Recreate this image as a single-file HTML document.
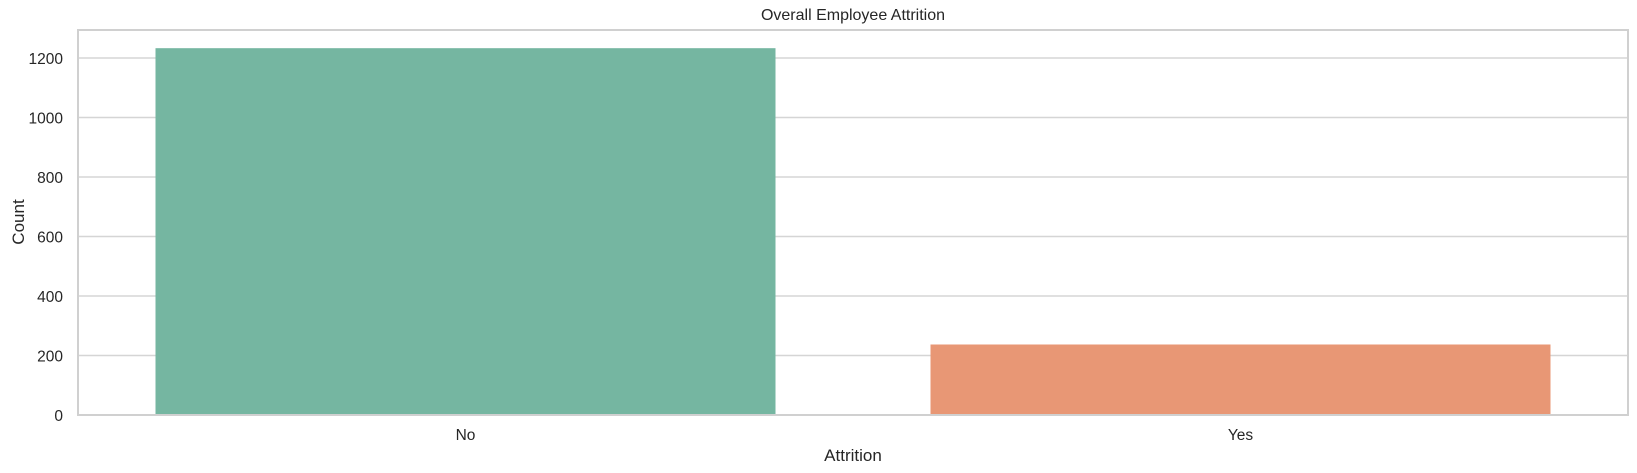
<!DOCTYPE html>
<html><head><meta charset="utf-8"><style>
body{margin:0;background:#fff}
svg{display:block;font-family:"Liberation Sans","DejaVu Sans",sans-serif}
</style></head><body>
<svg id="chart" width="1637" height="473">
<text x="853" y="20" text-anchor="middle" font-size="16" fill="#262626">Overall Employee Attrition</text>
<g id="grid"></g>
<g id="bars"></g>
<g id="ticks"></g>
<rect x="78" y="30" width="1550" height="385" fill="none" stroke="#d0d0d0" stroke-width="2"/>
<text x="853" y="461" text-anchor="middle" font-size="17" fill="#262626">Attrition</text>
<text transform="translate(24,222) rotate(-90)" text-anchor="middle" font-size="17" fill="#262626">Count</text>
</svg>
<script>
const categories=["No","Yes"];
const counts=[1233,237];
const yTicks=[0,200,400,600,800,1000,1200];
const colors=["#75b6a1","#e89775"];
const L=78,R=1628,T=30,B=415,yMax=1200,yPix=357;
const NS="http://www.w3.org/2000/svg";
function y(v){return B-v/yMax*yPix;}
const band=(R-L)/categories.length;
function xc(i){return L+band*(i+0.5);}
const grid=document.getElementById('grid'),bars=document.getElementById('bars'),ticks=document.getElementById('ticks');
yTicks.forEach(t=>{
 const l=document.createElementNS(NS,'line');
 l.setAttribute('x1',L);l.setAttribute('x2',R);l.setAttribute('y1',y(t));l.setAttribute('y2',y(t));
 l.setAttribute('stroke','#d5d5d5');l.setAttribute('stroke-width','1.5');
 
 
 grid.appendChild(l);
 const tx=document.createElementNS(NS,'text');
 tx.setAttribute('x',63);tx.setAttribute('y',y(t)+6);tx.setAttribute('text-anchor','end');
 tx.setAttribute('font-size','15.5');tx.setAttribute('fill','#262626');tx.textContent=t;
 
 
 ticks.appendChild(tx);
});
categories.forEach((c,i)=>{
 const w=band*0.8;
 const r=document.createElementNS(NS,'rect');
 r.setAttribute('x',xc(i)-w/2);r.setAttribute('width',w);
 r.setAttribute('y',y(counts[i]));r.setAttribute('height',B-y(counts[i]));
 r.setAttribute('fill',colors[i]);
 
 
 bars.appendChild(r);
 const tx=document.createElementNS(NS,'text');
 tx.setAttribute('x',xc(i));tx.setAttribute('y',440);tx.setAttribute('text-anchor','middle');
 tx.setAttribute('font-size','15.5');tx.setAttribute('fill','#262626');tx.textContent=c;
 
 
 ticks.appendChild(tx);
});
</script>
</body></html>
